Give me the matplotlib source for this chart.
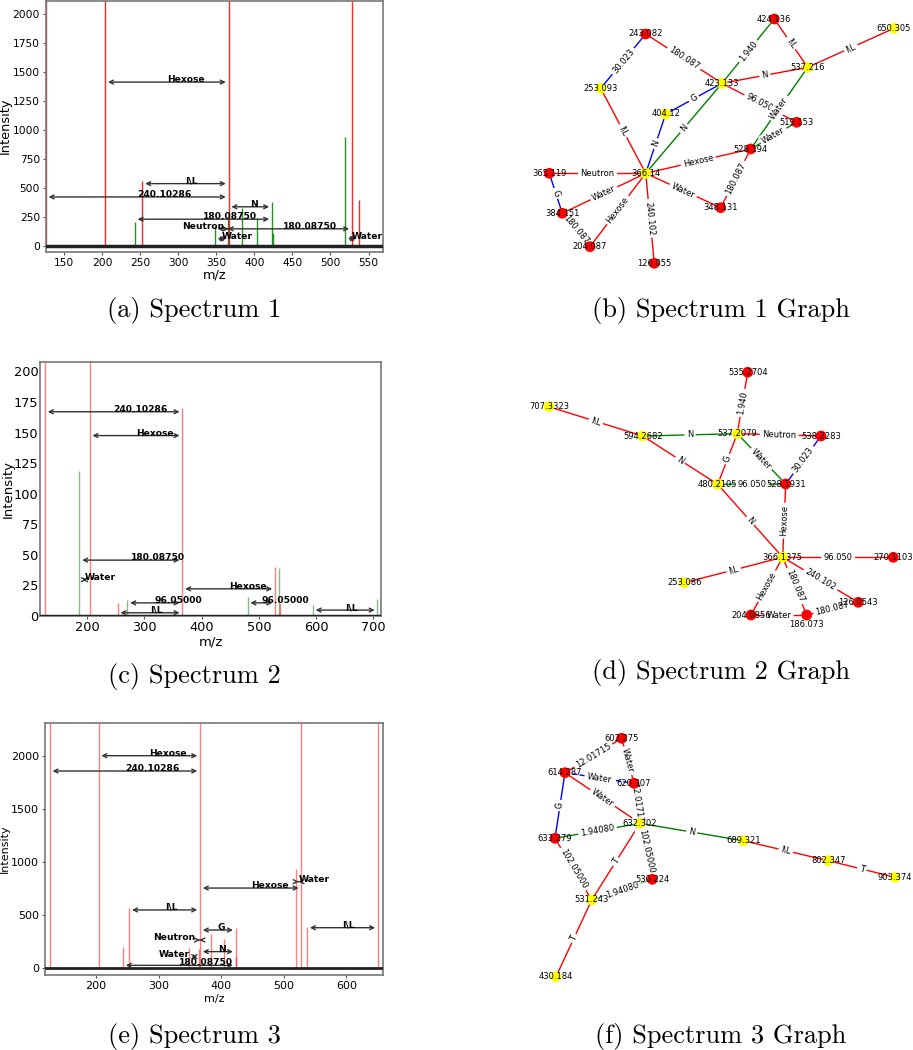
import math
import matplotlib
matplotlib.use("Agg")
import matplotlib.pyplot as plt

# ---------------- data ----------------
# Spectrum 1
spec1_mz = [126.055, 204.087, 243.082, 253.093, 348.131, 365.119, 366.14, 384.151,
            404.12, 423.133, 424.136, 519.153, 528.194, 537.216]
spec1_int = [2600, 2600, 210, 565, 175, 235, 2600, 330, 245, 385, 110, 945, 2600, 395]
spec1_col = ["r", "r", "g", "r", "g", "g", "r", "g", "g", "g", "g", "g", "r", "r"]
spec1_ann = [("Hexose", 204.087, 366.14, 1416, "left"),
             ("I\\L", 253.093, 366.14, 540, "left"),
             ("240.10286", 126.055, 366.14, 425, "left"),
             ("N", 366.14, 423.133, 340, "left"),
             ("180.08750", 243.082, 423.133, 233, "left"),
             ("Neutron", 365.119, 366.14, 150, "right"),
             ("180.08750", 348.131, 528.194, 150, "left"),
             ("Water", 348.131, 366.14, 64, "left"),
             ("Water", 519.153, 537.216, 66, "left")]

# Spectrum 2
spec2_mz = [126.054, 186.073, 204.086, 253.086, 270.110, 366.138, 480.211,
            528.193, 535.270, 537.208, 594.268, 707.332]
spec2_int = [260, 118.5, 260, 10, 12.8, 170, 15, 40, 39, 10, 8.5, 14]
spec2_col = ["r", "g", "r", "r", "g", "r", "g", "r", "g", "r", "g", "g"]
spec2_ann = [("240.10286", 126.054, 366.138, 167, "left"),
             ("Hexose", 204.086, 366.138, 147.5, "left"),
             ("180.08750", 186.073, 366.138, 45.5, "left"),
             ("Water", 186.073, 204.086, 29.5, "left"),
             ("Hexose", 366.138, 528.193, 22, "left"),
             ("96.05000", 270.110, 366.138, 10.5, "left"),
             ("I\\L", 253.086, 366.138, 2.4, "left"),
             ("96.05000", 480.211, 528.193, 10.5, "left"),
             ("I\\L", 594.268, 707.332, 4.6, "left")]

# Spectrum 3
spec3_mz = [126.055, 204.087, 243.082, 253.093, 348.131, 365.119, 366.14, 384.151,
            404.12, 423.133, 424.136, 519.153, 528.194, 537.216, 650.305]
spec3_int = [2600, 2600, 197, 564, 190, 180, 2600, 323, 279, 382, 110, 934, 2600, 386, 2600]
spec3_col = ["r"] * 15
spec3_ann = [("Hexose", 204.087, 366.14, 2000, "left"),
             ("240.10286", 126.055, 366.14, 1856, "left"),
             ("Hexose", 366.14, 528.194, 755, "left"),
             ("Water", 519.153, 528.194, 815, "left"),
             ("I\\L", 253.093, 366.14, 549, "left"),
             ("G", 366.14, 423.133, 360, "left"),
             ("Neutron", 365.119, 366.14, 266, "right"),
             ("N", 366.14, 423.133, 157, "left"),
             ("Water", 348.131, 366.14, 110, "right"),
             ("180.08750", 243.082, 423.133, 28, "left"),
             ("I\\L", 537.216, 650.305, 382, "left")]

# Graph 1 (layout coordinates)
g1_nodes = ["424.136", "650.305", "243.082", "537.216", "253.093", "423.133", "404.12",
            "519.153", "528.194", "365.119", "366.14", "384.151", "348.131", "204.087", "126.055"]
g1_x = [774.3, 894.0, 645.7, 807.7, 600.7, 722.0, 665.7, 796.7, 750.7, 549.3, 645.7, 562.3, 720.7, 590.0, 654.3]
g1_y = [19.0, 28.3, 34.0, 67.3, 88.3, 83.3, 114.0, 122.3, 149.0, 173.3, 173.3, 213.3, 207.7, 246.7, 263.3]
g1_col = ["r", "y", "r", "y", "y", "y", "y", "r", "r", "r", "y", "r", "r", "r", "r"]
g1_edges = [("424.136", "423.133", "g", "1.940", "-"),
            ("424.136", "537.216", "r", "I\\L", "-"),
            ("537.216", "650.305", "r", "I\\L", "-"),
            ("243.082", "253.093", "b", "30.023", "-"),
            ("243.082", "423.133", "r", "180.087", "-"),
            ("423.133", "537.216", "r", "N", "-"),
            ("423.133", "404.12", "b", "G", "-"),
            ("423.133", "519.153", "r", "96.050", "-"),
            ("423.133", "366.14", "g", "N", "-"),
            ("537.216", "528.194", "g", "Water", "-"),
            ("528.194", "519.153", "g", "Water", "-"),
            ("253.093", "366.14", "r", "I\\L", "-"),
            ("404.12", "366.14", "b", "N", "-"),
            ("366.14", "528.194", "r", "Hexose", "-"),
            ("528.194", "348.131", "r", "180.087", "-"),
            ("366.14", "365.119", "r", "Neutron", "-"),
            ("365.119", "384.151", "b", "G", "-"),
            ("366.14", "384.151", "r", "Water", "-"),
            ("366.14", "204.087", "r", "Hexose", "-"),
            ("384.151", "204.087", "r", "180.087", "-"),
            ("366.14", "348.131", "r", "Water", "-"),
            ("366.14", "126.055", "r", "240.102", "-")]

# Graph 2
g2_nodes = ["535.2704", "707.3323", "594.2682", "537.2079", "538.2283", "480.2105", "528.1931",
            "366.1375", "270.1103", "253.086", "126.0543", "204.0856", "186.073"]
g2_x = [747.7, 549.0, 642.7, 737.3, 821.0, 717.7, 785.7, 782.7, 893.3, 684.3, 858.3, 751.0, 806.7]
g2_y = [372.3, 406.7, 436.0, 433.7, 436.0, 484.3, 484.0, 557.3, 557.3, 582.7, 602.3, 615.0, 615.0]
g2_col = ["r", "y", "y", "y", "r", "y", "r", "y", "r", "y", "r", "r", "r"]
g2_label_dy = [0, 0, 0, 0, 0, 0, 0, 0, 0, 0, 0, 0, 9.5]
g2_edges = [("707.3323", "594.2682", "r", "I\\L", "-"),
            ("594.2682", "537.2079", "g", "N", "-"),
            ("594.2682", "480.2105", "r", "N", "-"),
            ("480.2105", "366.1375", "r", "N", "-"),
            ("537.2079", "535.2704", "r", "1.940", "-"),
            ("537.2079", "538.2283", "r", "Neutron", "-"),
            ("537.2079", "480.2105", "r", "G", "-"),
            ("537.2079", "528.1931", "g", "Water", "-"),
            ("538.2283", "528.1931", "b", "30.023", "-"),
            ("480.2105", "528.1931", "g", "96.050", "-"),
            ("528.1931", "366.1375", "r", "Hexose", "-"),
            ("366.1375", "270.1103", "r", "96.050", "-"),
            ("366.1375", "253.086", "r", "I\\L", "-"),
            ("366.1375", "126.0543", "r", "240.102", "-"),
            ("366.1375", "204.0856", "r", "Hexose", "-"),
            ("366.1375", "186.073", "r", "180.087", "-"),
            ("204.0856", "186.073", "r", "Water", "-"),
            ("186.073", "126.0543", "r", "180.087", "-")]

# Graph 3
g3_nodes = ["602.275", "614.287", "620.307", "632.302", "633.279", "689.321", "802.347",
            "903.374", "530.224", "531.243", "430.184"]
g3_x = [621.7, 565.0, 634.0, 640.0, 555.0, 743.3, 828.3, 895.0, 652.3, 591.7, 556.0]
g3_y = [738.3, 772.7, 783.3, 823.3, 838.3, 840.7, 860.7, 877.3, 879.3, 900.0, 976.7]
g3_col = ["r", "r", "r", "y", "r", "y", "y", "y", "r", "y", "y"]
g3_edges = [("614.287", "602.275", "r", "12.01715", "-"),
            ("602.275", "620.307", "r", "Water", "-"),
            ("614.287", "620.307", "b", "Water", "--"),
            ("614.287", "632.302", "r", "Water", "-"),
            ("614.287", "633.279", "b", "G", "-"),
            ("620.307", "632.302", "r", "12.01713", "-"),
            ("633.279", "632.302", "g", "1.94080", "-"),
            ("633.279", "531.243", "r", "102.05000", "-"),
            ("632.302", "531.243", "r", "T", "-"),
            ("632.302", "530.224", "r", "102.05000", "-"),
            ("632.302", "689.321", "g", "N", "-"),
            ("689.321", "802.347", "r", "I\\L", "-"),
            ("802.347", "903.374", "r", "T", "-"),
            ("531.243", "530.224", "lg", "1.94080", "-"),
            ("531.243", "430.184", "r", "T", "-")]

captions = ["(a) Spectrum 1", "(b) Spectrum 1 Graph", "(c) Spectrum 2",
            "(d) Spectrum 2 Graph", "(e) Spectrum 3", "(f) Spectrum 3 Graph"]

# ---------------- drawing ----------------
W, H = 913, 1050
fig = plt.figure(figsize=(W / 100, H / 100), dpi=100)

PEAK = {"r": "#ff0000", "g": "#008000"}
EDGE = {"r": "#ff0000", "g": "#008000", "b": "#0000ff", "lg": "#7fbf7f"}
NODE = {"r": "#ff0000", "y": "#ffff00"}


def px_axes(x0, y0, x1, y1):
    return fig.add_axes([x0 / W, 1 - y1 / H, (x1 - x0) / W, (y1 - y0) / H])


def draw_spectrum(box, mz, inten, cols, alpha, ann, xlim, ylim, xticks, yticks,
                  tick_fs, lab_fs, ylab_x, xlab_y, zero_lw, ytick_len=2.5, ytick_pad=1.6):
    ax = px_axes(*box)
    ax.vlines(mz, 0, inten, colors=[PEAK[c] for c in cols], lw=1.0, alpha=alpha, zorder=2)
    ax.axhline(0, color="#222222", lw=zero_lw, zorder=3)
    for lab, a, b, y, ha in ann:
        ax.annotate("", xy=(b, y), xytext=(a, y),
                    arrowprops=dict(arrowstyle="<->", color="#333333", lw=1.0,
                                    shrinkA=2, shrinkB=2, mutation_scale=7), zorder=4)
        xm = (a + b) / 2
        off = 0 if ha == "left" else -3
        ax.annotate(lab, xy=(xm, y), xytext=(off, 0), textcoords="offset points",
                    ha=ha, va="baseline", fontsize=6.6, fontweight="bold", color="black",
                    zorder=5)
    ax.set_xlim(*xlim)
    ax.set_ylim(*ylim)
    ax.set_xticks(xticks)
    ax.set_yticks(yticks)
    ax.tick_params(labelsize=tick_fs, length=2.5, width=0.8, pad=1.6, color="#555555")
    ax.tick_params(axis="y", length=ytick_len, pad=ytick_pad)
    for s in ax.spines.values():
        s.set_color("#777777")
        s.set_linewidth(1.2)
    ax.set_xlabel("m/z", fontsize=lab_fs)
    ax.set_ylabel("Intensity", fontsize=lab_fs)
    ax.yaxis.set_label_coords(ylab_x, 0.5)
    ax.xaxis.set_label_coords(0.5, xlab_y)
    return ax


def draw_graph(box, names, xs, ys, cols, edges, label_dy=None):
    ax = px_axes(*box)
    ax.set_xlim(box[0], box[2])
    ax.set_ylim(box[3], box[1])
    ax.axis("off")
    pos = {n: (x, y) for n, x, y in zip(names, xs, ys)}
    for a, b, c, lab, ls in edges:
        (x1, y1), (x2, y2) = pos[a], pos[b]
        ax.plot([x1, x2], [y1, y2], color=EDGE[c], lw=1.0, ls=ls, zorder=1)
        ang = math.degrees(math.atan2(-(y2 - y1), x2 - x1))
        if ang > 90:
            ang -= 180
        if ang < -90:
            ang += 180
        ax.text((x1 + x2) / 2, (y1 + y2) / 2, lab, rotation=ang, rotation_mode="anchor",
                ha="center", va="center", fontsize=6,
                bbox=dict(boxstyle="round", ec="white", fc="white", pad=0.2), zorder=1.5)
    ax.scatter(xs, ys, s=60, c=[NODE[c] for c in cols], linewidths=0, zorder=2)
    if label_dy is None:
        label_dy = [0] * len(names)
    for n, x, y, dy in zip(names, xs, ys, label_dy):
        ax.text(x, y + dy, n, ha="center", va="center", fontsize=6, zorder=3)
    return ax


draw_spectrum((45.7, 0.5, 383, 252), spec1_mz, spec1_int, spec1_col, 0.85, spec1_ann,
              (126, 569), (-50, 2120), [150, 200, 250, 300, 350, 400, 450, 500, 550],
              [0, 250, 500, 750, 1000, 1250, 1500, 1750, 2000],
              7.7, 9.3, -0.100, -0.064, 2.5)
draw_spectrum((40, 361.7, 381, 615.7), spec2_mz, spec2_int, spec2_col, 0.5, spec2_ann,
              (117.3, 713.5), (0, 208), [200, 300, 400, 500, 600, 700],
              [0, 25, 50, 75, 100, 125, 150, 175, 200],
              9.3, 9.5, -0.075, -0.076, 2.5, ytick_len=0, ytick_pad=1.2)
draw_spectrum((45, 723.3, 382.7, 975), spec3_mz, spec3_int, spec3_col, 0.5, spec3_ann,
              (118.5, 658), (-63, 2305), [200, 300, 400, 500, 600],
              [0, 500, 1000, 1500, 2000],
              8, 8, -0.104, -0.075, 2.0)

draw_graph((500, 0, 913, 290), g1_nodes, g1_x, g1_y, g1_col, g1_edges)
draw_graph((500, 355, 913, 645), g2_nodes, g2_x, g2_y, g2_col, g2_edges, g2_label_dy)
draw_graph((480, 720, 913, 1000), g3_nodes, g3_x, g3_y, g3_col, g3_edges)

cap_pos = [(194, 311), (721, 311), (194, 677), (721, 673), (194, 1036), (721, 1036)]
for txt, (cx, cy) in zip(captions, cap_pos):
    fig.text(cx / W, 1 - cy / H, txt, ha="center", va="center",
             fontfamily="cmr10", fontsize=19)

fig.savefig("out.png", dpi=100)
